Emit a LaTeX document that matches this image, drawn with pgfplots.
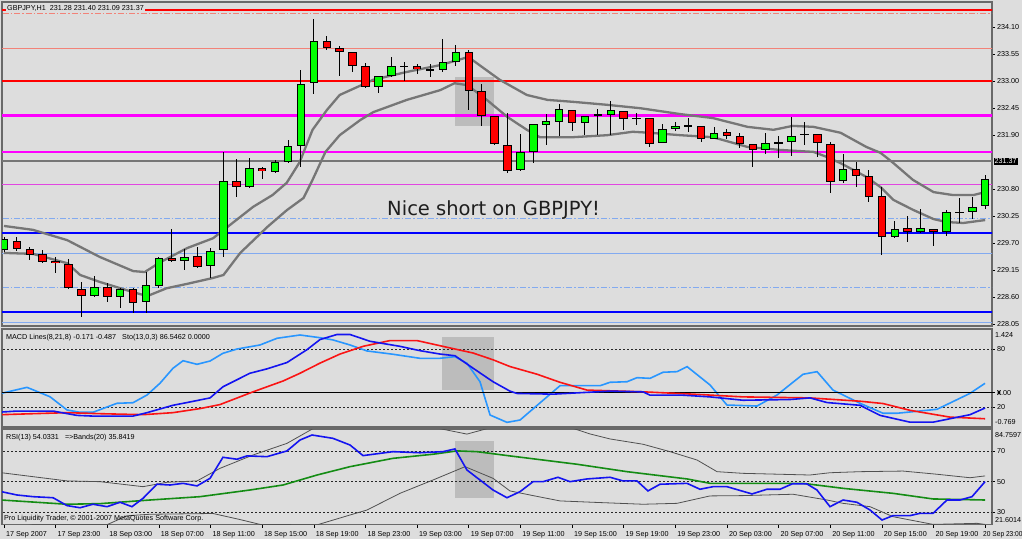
\documentclass[border=0pt]{standalone}
\usepackage{pgfplots}
\pgfplotsset{compat=1.18}
\usepackage{pgfplotstable}
\usepackage{fontspec}
\setmainfont{Liberation Sans}
\newfontfamily\bigfont{DejaVu Sans}

\definecolor{chartbg}{RGB}{221,221,221}
\definecolor{frame}{RGB}{105,105,105}
\definecolor{shade}{RGB}{188,188,188}
\definecolor{lvred}{RGB}{255,0,0}
\definecolor{lvsalmon}{RGB}{242,130,120}
\definecolor{lvmag}{RGB}{255,0,255}
\definecolor{lvpink}{RGB}{225,70,225}
\definecolor{lvblue}{RGB}{0,0,255}
\definecolor{lvlight}{RGB}{130,170,240}
\definecolor{magray}{RGB}{118,118,118}
\definecolor{upgreen}{RGB}{0,255,0}
\definecolor{dnred}{RGB}{255,0,0}
\definecolor{stochblue}{RGB}{40,150,255}
\definecolor{macdblue}{RGB}{20,20,240}
\definecolor{sigred}{RGB}{250,20,20}
\definecolor{rsigreen}{RGB}{20,140,20}
\definecolor{bandgray}{RGB}{80,80,80}

\newcommand\mt{\fontsize{7.2}{8.6}\selectfont}

% hourly candles, bar 0 = 17 Sep 19:00
\pgfplotstableread{
k o h l c
0 229.56 229.82 229.52 229.78
1 229.75 229.82 229.55 229.57
2 229.58 229.62 229.36 229.46
3 229.48 229.56 229.29 229.31
4 229.34 229.42 229.09 229.29
5 229.27 229.37 228.76 228.78
6 228.76 228.91 228.19 228.62
7 228.62 229.03 228.60 228.80
8 228.80 228.89 228.50 228.60
9 228.60 228.78 228.38 228.76
10 228.76 228.78 228.28 228.48
11 228.50 229.11 228.28 228.85
12 228.83 229.42 228.78 229.40
13 229.40 229.99 229.31 229.34
14 229.34 229.58 229.15 229.42
15 229.44 229.62 229.19 229.21
16 229.23 229.60 228.99 229.54
17 229.56 231.56 229.42 230.97
18 230.97 231.42 230.64 230.84
19 230.84 231.44 230.82 231.23
20 231.23 231.25 231.01 231.17
21 231.15 231.39 231.13 231.35
22 231.35 231.80 231.33 231.68
23 231.68 233.23 231.25 232.94
24 232.96 234.27 232.74 233.82
25 233.82 233.92 233.64 233.68
26 233.68 233.72 233.11 233.60
27 233.60 233.60 233.19 233.31
28 233.31 233.37 232.86 232.88
29 232.88 233.11 232.76 233.11
30 233.11 233.49 233.09 233.31
31 233.31 233.39 233.00 233.31
32 233.31 233.35 233.15 233.25
33 233.21 233.35 233.09 233.25
34 233.23 233.86 233.19 233.39
35 233.39 233.74 233.31 233.60
36 233.60 233.64 232.41 232.80
37 232.80 232.94 232.09 232.29
38 232.29 232.29 231.70 231.72
39 231.70 232.35 231.13 231.17
40 231.19 231.92 231.17 231.56
41 231.56 232.13 231.33 232.13
42 232.11 232.33 231.70 232.19
43 232.17 232.54 231.88 232.43
44 232.41 232.41 231.99 232.15
45 232.15 232.29 231.90 232.29
46 232.29 232.43 231.90 232.33
47 232.31 232.60 231.90 232.41
48 232.39 232.39 232.01 232.23
49 232.25 232.35 232.11 232.25
50 232.25 232.25 231.66 231.72
51 231.74 232.13 231.74 232.03
52 232.03 232.17 231.99 232.09
53 232.09 232.25 231.96 232.09
54 232.09 232.09 231.76 231.82
55 231.82 232.07 231.82 231.94
56 231.96 232.03 231.82 231.88
57 231.88 231.94 231.64 231.72
58 231.72 231.72 231.25 231.60
59 231.60 231.94 231.52 231.74
60 231.72 231.88 231.43 231.76
61 231.76 232.27 231.48 231.88
62 231.92 232.17 231.70 231.92
63 231.92 231.92 231.46 231.74
64 231.72 231.76 230.72 230.95
65 230.97 231.52 230.93 231.21
66 231.21 231.35 230.84 231.07
67 231.07 231.19 230.54 230.64
68 230.66 230.84 229.46 229.83
69 229.83 230.15 229.80 229.99
70 230.01 230.25 229.72 229.93
71 229.93 230.40 229.91 230.01
72 229.99 229.99 229.64 229.93
73 229.93 230.38 229.85 230.33
74 230.33 230.62 230.11 230.33
75 230.33 230.64 230.19 230.44
76 230.46 231.09 230.40 231.01
}\candles

\pgfplotsset{
  mtpanel/.style={
    scale only axis, width=990pt,
    xmin=-0.155, xmax=76.53,
    axis background/.style={fill=chartbg},
    axis line style={draw=frame, line width=1.2pt},
    xtick=\empty,
    ytick pos=right, yticklabel pos=right,
    tick align=outside, major tick length=3pt,
    tick style={black, line width=0.6pt},
    yticklabel style={font=\mt, anchor=west, xshift=-1.5pt},
    clip mode=individual,
  },
  level/.style={line width=#1, forget plot},
  dotline/.style={black!85, line width=0.6pt, dash pattern=on 2pt off 2pt},
  dashdot/.style={dash pattern=on 6pt off 2pt on 1.5pt off 2pt},
  candlebar/.style={draw=none, mark=none, forget plot,
    error bars/.cd, y dir=both, y explicit, error mark=none},
}

\begin{document}
\begin{tikzpicture}
\useasboundingbox (0,0) rectangle (1022pt,539pt);
\fill[chartbg] (0,0) rectangle (1022pt,539pt);

% ---------------- price panel
\begin{axis}[mtpanel, at={(2pt,537pt)}, anchor=north west, height=324pt,
  ymin=228.010, ymax=234.616,
  ytick={228.05,228.60,229.15,229.70,230.25,230.80,231.90,232.45,233.00,233.55,234.10},
  yticklabels={228.05,228.60,229.15,229.70,230.25,230.80,231.90,232.45,233.00,233.55,234.10}]

\addplot[fill=shade, draw=none] coordinates {(34.93,232.08)(37.95,232.08)(37.95,233.08)(34.93,233.08)} --cycle;

% horizontal levels
\addplot[lvred, level=2pt] coordinates {(-1,234.459)(78,234.459)};
\addplot[lvsalmon, level=1pt, dashdot] coordinates {(-1,234.372)(78,234.372)};
\addplot[lvsalmon, level=1pt] coordinates {(-1,233.664)(78,233.664)};
\addplot[lvred, level=2pt] coordinates {(-1,233.005)(78,233.005)};
\addplot[lvmag, level=3pt] coordinates {(-1,232.298)(78,232.298)};
\addplot[lvmag, level=2pt] coordinates {(-1,231.558)(78,231.558)};
\addplot[magray, level=1.6pt] coordinates {(-1,231.37)(78,231.37)};
\addplot[lvpink, level=1pt] coordinates {(-1,230.885)(78,230.885)};
\addplot[lvlight, level=1pt, dashdot] coordinates {(-1,230.192)(78,230.192)};
\addplot[lvblue, level=2pt] coordinates {(-1,229.912)(78,229.912)};
\addplot[lvlight, level=1pt] coordinates {(-1,229.478)(78,229.478)};
\addplot[lvlight, level=1pt, dashdot] coordinates {(-1,228.785)(78,228.785)};
\addplot[lvblue, level=2pt] coordinates {(-1,228.295)(78,228.295)};
\addplot[lvlight, level=1pt] coordinates {(-1,228.077)(78,228.077)};

% moving averages
\addplot[magray, line width=2.3pt] coordinates {
(0,230.05)(2.25,229.97)(4.9,229.76)(7.4,229.42)(10,229.13)(10.9,229.11)(12.1,229.31)(14.2,229.60)
(16.2,229.80)(17.7,230.11)(19.3,230.44)(20.8,230.68)(21.9,230.93)(22.9,231.35)(23.9,232.01)
(25,232.41)(26,232.72)(28.6,233.03)(31.2,233.19)(33.8,233.33)(35.9,233.49)(36.3,233.43)
(38.4,233.03)(40.5,232.72)(42.1,232.62)(44.1,232.58)(46.7,232.52)(49.3,232.45)(52.4,232.33)
(54.9,232.25)(57.6,232.07)(59.6,232.01)(61.1,232.09)(62.7,232.07)(64.8,231.95)(66.8,231.66)
(67.9,231.54)(68.9,231.33)(70.4,230.99)(72,230.74)(73.5,230.68)(75.1,230.68)(76,230.74)};
\addplot[magray, line width=2.3pt] coordinates {
(0,229.50)(2.25,229.48)(4.9,229.29)(5.9,229.05)(7.4,228.91)(10,228.70)(11.1,228.62)(12.6,228.78)
(14.2,228.87)(16.2,228.99)(17,229.05)(18.3,229.50)(20.4,230.03)(21.9,230.37)(23.2,230.62)
(23.9,230.99)(24.9,231.56)(26,231.90)(27.6,232.21)(28.6,232.37)(31.2,232.62)(33.8,232.82)
(34.9,232.96)(35.9,232.92)(37.4,232.62)(39,232.27)(40.5,232.01)(41.5,231.86)(44.1,231.86)
(46.7,231.90)(48.7,231.97)(50,231.95)(52.4,231.90)(54.9,231.86)(57.6,231.66)(60.1,231.60)
(62.7,231.56)(63.7,231.46)(64.8,231.33)(66.8,231.05)(67.9,230.84)(68.9,230.58)(70.4,230.38)
(72,230.19)(73,230.13)(74.3,230.11)(76,230.17)};

% candles: wicks, outlines, fills
\addplot[candlebar, error bar style={draw=black, line width=1pt}]
  table[x=k, y expr={(\thisrow{h}+\thisrow{l})/2}, y error expr={(\thisrow{h}-\thisrow{l})/2}] {\candles};
\addplot[candlebar, error bar style={draw=black, line width=8.5pt}]
  table[x=k, y expr={(\thisrow{o}+\thisrow{c})/2}, y error expr={max(abs(\thisrow{c}-\thisrow{o})/2,0.011)}] {\candles};
\addplot[candlebar, error bar style={draw=upgreen, line width=6.5pt}]
  table[x=k, y expr={(\thisrow{o}+\thisrow{c})/2}, y error expr={(\thisrow{c}>\thisrow{o})*max(abs(\thisrow{c}-\thisrow{o})/2-0.0204,0)}] {\candles};
\addplot[candlebar, error bar style={draw=dnred, line width=6.5pt}]
  table[x=k, y expr={(\thisrow{o}+\thisrow{c})/2}, y error expr={(\thisrow{c}<\thisrow{o})*max(abs(\thisrow{c}-\thisrow{o})/2-0.0204,0)}] {\candles};

\node[anchor=base west, inner sep=0pt, text={rgb,255:red,30;green,30;blue,30},
  font=\bigfont\fontsize{19.5}{22}\selectfont] at (axis cs:29.67,230.273) {Nice short on GBPJPY!};
\node[anchor=west, fill=chartbg, inner sep=1pt, font=\mt] at (rel axis cs:0.004,0.981)
  {GBPJPY,H1~~231.28 231.40 231.09 231.37};
\node[anchor=west, fill=black, text=white, inner sep=1pt, font=\mt, xshift=1.5pt] at (axis cs:76.53,231.37) {231.37};
\end{axis}

% ---------------- MACD / stochastic panel (stochastic scale)
\begin{axis}[mtpanel, at={(2pt,210pt)}, anchor=north west, height=98pt,
  ymin=-0.4, ymax=100.9, ytick={20,80}, yticklabels={20,80}]
\addplot[fill=shade, draw=none] coordinates {(33.93,37.8)(37.95,37.8)(37.95,92.7)(33.93,92.7)} --cycle;
\addplot[dotline] coordinates {(-1,80)(78,80)};
\addplot[dotline] coordinates {(-1,20)(78,20)};
\addplot[stochblue, line width=1.6pt] coordinates {
(-0.2,34.4)(1.78,40.6)(3.56,30.9)(4.88,17.2)(5.89,14.8)(6.89,14.8)(8.75,24.1)(9.99,24.7)(11.08,32.7)
(12.08,44.8)(13.09,60.3)(13.87,68.1)(14.95,64.4)(15.96,67.8)(16.96,75.8)(18.05,80.2)(19.83,84.4)
(21.15,91.3)(22.93,94.7)(24.48,91.9)(25.48,89.6)(26.80,84.4)(28.12,78.2)(30.13,74.8)(32.22,70.6)
(33.77,70.6)(34.93,72.3)(35.86,65.5)(36.87,46.4)(37.65,12.0)(38.96,4.4)(39.97,6.8)(43.07,42.3)
(46.17,42.3)(46.94,45.8)(48.26,46.4)(49.03,50.6)(50.04,49.9)(51.05,56.2)(52.13,56.8)(52.91,62.0)
(54.69,43.0)(56.00,22.3)(58.33,21.3)(59.88,32.7)(61.89,54.1)(62.98,56.8)(64.21,37.8)(66.31,24.1)
(68.09,13.8)(69.17,13.8)(72.27,17.9)(74.83,34.4)(75.99,44.8)};
\node[anchor=west, inner sep=1pt, font=\mt] at (rel axis cs:0.003,0.915)
  {MACD Lines(8,21,8) -0.171 -0.487~~~Sto(13,0,3) 86.5462 0.0000};
\end{axis}

% ---------------- MACD / stochastic panel (MACD scale)
\begin{axis}[mtpanel, at={(2pt,210pt)}, anchor=north west, height=98pt,
  axis background/.style={}, axis line style={draw=none},
  ymin=-0.769, ymax=1.424, ytick={0},
  yticklabels={{\setlength\fboxsep{0pt}\colorbox{black}{\textcolor{white}{0}}.00}}]
\addplot[black, line width=1.5pt] coordinates {(-1,0)(78,0)};
\addplot[sigred, line width=1.6pt] coordinates {
(-0.2,-0.493)(2.25,-0.471)(4.88,-0.448)(7.44,-0.471)(10.77,-0.493)(13.09,-0.448)(15.18,-0.357)
(16.73,-0.267)(19.29,0.018)(21.61,0.260)(22.93,0.434)(24.48,0.661)(26.03,0.864)(27.81,1.036)
(29.90,1.165)(31.99,1.165)(34.55,1.000)(36.33,0.887)(37.88,0.735)(39.19,0.584)(41.29,0.412)
(43.07,0.231)(45.16,0.057)(49.50,0.018)(53.37,-0.034)(57.24,-0.095)(62.43,-0.118)(66.31,-0.192)
(68.09,-0.244)(70.18,-0.396)(73.28,-0.548)(75.99,-0.584)};
\addplot[macdblue, line width=1.6pt] coordinates {
(-0.2,-0.434)(1.01,-0.412)(3.80,-0.412)(5.65,-0.509)(6.89,-0.525)(9.99,-0.525)(11.08,-0.448)
(13.09,-0.283)(14.17,-0.222)(15.96,-0.118)(16.96,0.131)(19.05,0.434)(20.37,0.532)(21.92,0.674)
(23.47,0.962)(24.48,1.188)(25.79,1.301)(26.80,1.301)(28.35,1.149)(30.67,1.036)(32.22,0.939)
(33.77,0.864)(34.93,0.826)(36.33,0.548)(37.88,0.244)(39.19,0.034)(39.74,-0.018)(42.53,-0.034)
(46.94,0.034)(49.50,0.018)(50.04,-0.057)(52.59,-0.057)(54.69,-0.095)(57.24,-0.170)(60.88,-0.154)
(62.43,-0.118)(63.75,-0.222)(66.31,-0.283)(67.86,-0.509)(70.18,-0.661)(71.96,-0.661)(73.51,-0.570)
(74.83,-0.493)(75.99,-0.344)};
\node[anchor=west, inner sep=0pt, font=\mt, xshift=3pt] at (rel axis cs:1,0.939) {1.424};
\node[anchor=west, inner sep=0pt, font=\mt, xshift=3pt] at (rel axis cs:1,0.054) {-0.769};
\end{axis}

% ---------------- RSI panel
\begin{axis}[mtpanel, at={(2pt,110pt)}, anchor=north west, height=95.7pt,
  ymin=21.6014, ymax=84.7597, ytick={30,50,70}, yticklabels={30,50,70},
  xtick={0,4,...,76}, xtick pos=bottom,
  xticklabels={17 Sep 2007,17 Sep 23:00,18 Sep 03:00,18 Sep 07:00,18 Sep 11:00,18 Sep 15:00,
    18 Sep 19:00,18 Sep 23:00,19 Sep 03:00,19 Sep 07:00,19 Sep 11:00,19 Sep 15:00,19 Sep 19:00,
    19 Sep 23:00,20 Sep 03:00,20 Sep 07:00,20 Sep 11:00,20 Sep 15:00,20 Sep 19:00,
    \hspace*{-4pt}\scalebox{0.92}[1]{20 Sep 23:00}},
  xticklabel style={font=\mt, anchor=north west, xshift=-1.5pt}]
\addplot[fill=shade, draw=none] coordinates {(34.93,39.2)(37.95,39.2)(37.95,76.9)(34.93,76.9)} --cycle;
\addplot[dotline] coordinates {(-1,70)(78,70)};
\addplot[dotline] coordinates {(-1,50)(78,50)};
\addplot[dotline] coordinates {(-1,30)(78,30)};
% Bollinger bands on RSI
\addplot[bandgray, line width=0.8pt] coordinates {
(-0.2,55.9)(4.88,50.5)(7.44,50.0)(10.77,46.7)(12.63,49.6)(14.95,50.5)(16.73,58.8)(19.29,67.6)
(21.92,75.3)(23.93,85.0)(26.03,91)(29.12,94)(32.22,92)(33.77,85)(35.86,81.4)(37.41,85)(39.97,92)
(43.07,88)(45.39,81.5)(46.94,78.2)(49.50,74.7)(51.59,69.8)(53.68,64.3)(55.23,56.6)(57.24,55.5)
(62.43,54.4)(63.98,55.9)(66.31,56.6)(69.64,57.0)(72.27,54.9)(74.83,52.6)(75.99,53.8)};
\addplot[bandgray, line width=0.8pt] coordinates {
(-0.2,18)(2.25,21.6)(7.98,21.6)(9.53,27.5)(11.31,28.5)(16.19,29.0)(18.28,25)(19.83,21.8)(24.25,21.5)
(26.80,28.0)(28.12,31.3)(30.67,42.3)(33.23,51.1)(35.71,59.9)(37.88,52.2)(39.19,43.9)(40.98,40.8)
(43.07,37.3)(45.62,36.4)(49.50,35.1)(52.13,35.7)(54.69,40.6)(57.24,40.8)(61.12,41.7)(63.75,37.9)
(64.99,35.7)(67.08,33.5)(68.86,26.9)(71.96,21.8)(75.37,22.5)(75.99,21.8)};
\addplot[rsigreen, line width=1.6pt] coordinates {
(-0.2,37.9)(4.88,35.1)(7.44,35.5)(11.31,37.9)(15.18,40.1)(19.05,44.5)(21.61,47.8)(24.25,54.4)
(26.80,59.9)(30.13,65.4)(33.23,68.1)(35.09,70.3)(36.64,69.8)(39.19,67.0)(44.38,61.5)(48.26,56.6)
(52.91,51.8)(54.69,48.9)(61.89,48.9)(64.99,45.6)(68.86,42.3)(71.96,38.6)(75.99,37.9)};
\addplot[macdblue, line width=1.6pt] coordinates {
(-0.2,43.4)(1.01,41.2)(2.25,40.1)(3.80,39.4)(4.88,34.2)(5.89,32.8)(6.89,35.1)(7.98,33.5)(8.99,36.4)
(9.91,33.5)(10.77,39.0)(11.85,48.3)(12.86,47.8)(13.87,48.9)(14.95,47.2)(15.96,52.2)(16.96,66.1)
(18.05,64.8)(18.82,67.0)(20.37,66.5)(21.92,70.3)(22.93,77.5)(23.86,80.8)(25.48,78.6)(26.80,74.2)
(27.81,67.2)(30.13,69.8)(32.22,69.1)(34.00,69.8)(34.93,71.6)(35.86,57.7)(36.87,51.1)(37.88,44.5)
(38.96,39.4)(39.97,43.4)(40.98,50.0)(41.75,50.0)(42.91,52.9)(43.84,50.0)(45.16,51.8)(46.94,52.9)
(47.95,50.5)(49.03,50.5)(49.88,43.9)(50.81,48.3)(52.91,48.9)(53.91,45.0)(54.92,46.7)(56.00,46.7)
(57.94,41.9)(59.10,45.0)(60.11,45.0)(61.04,48.5)(62.20,48.5)(62.97,44.5)(63.98,33.5)(64.99,37.9)
(66.07,36.4)(67.08,31.3)(68.01,24.7)(68.86,27.6)(70.18,27.6)(70.95,29.1)(71.96,29.1)(73.04,37.9)
(74.05,37.9)(74.98,40.1)(75.99,50.0)};
\node[anchor=west, inner sep=1pt, font=\mt] at (rel axis cs:0.003,0.913)
  {RSI(13) 54.0331~~~=>Bands(20) 35.8419};
\node[anchor=west, inner sep=0pt, font=\mt] at (rel axis cs:0.002,0.06)
  {Pro Liquidity Trader, © 2001-2007 MetaQuotes Software Corp.};
\node[anchor=west, inner sep=0pt, font=\mt, xshift=3pt] at (rel axis cs:1,0.937) {84.7597};
\node[anchor=west, inner sep=0pt, font=\mt, xshift=3pt] at (rel axis cs:1,0.049) {21.6014};
\end{axis}
\end{tikzpicture}
\end{document}
